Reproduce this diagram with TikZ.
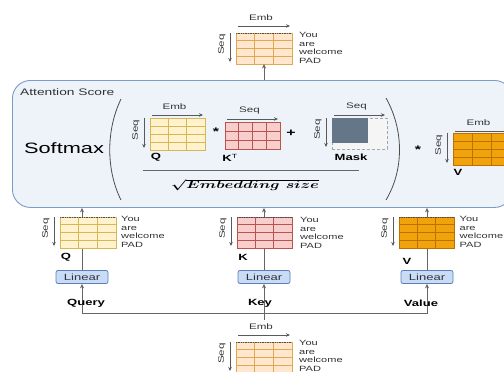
\documentclass[tikz,border=0pt]{standalone}
\usepackage{fontspec}
\setmainfont{Liberation Sans}[FakeStretch=1.45]
\usepackage{amsmath,bm,graphicx}
\usetikzlibrary{arrows.meta,calc}
\definecolor{tmf}{HTML}{FFE6CC}\definecolor{tmd}{HTML}{E0A850}
\definecolor{qf}{HTML}{FFF2CC}\definecolor{qd}{HTML}{D6B656}
\definecolor{kf}{HTML}{F8CECC}\definecolor{kd}{HTML}{B85450}
\definecolor{vf}{HTML}{F0A30A}\definecolor{vd}{HTML}{BD7000}
\definecolor{linf}{HTML}{C9DCF7}\definecolor{lind}{HTML}{5C80B5}
\definecolor{attf}{HTML}{EEF3FA}\definecolor{attd}{HTML}{7A9CC8}
\definecolor{maskd}{HTML}{647687}
\definecolor{txtc}{HTML}{333333}
\newcommand\gmat[8]{%
 \node[inner sep=0, outer sep=0, draw=#8d, fill=#8f, line width=.8pt, anchor=north west,
   minimum width={(#4-#2)*1pt}, minimum height={(#5-#3)*1pt}] (#1) at (#2,#3) {};
 \pgfmathsetmacro\cw{(#4-#2)/#6}\pgfmathsetmacro\rh{(#5-#3)/#7}%
 \pgfmathtruncatemacro\nc{#6-1}\pgfmathtruncatemacro\nr{#7-1}%
 \foreach \i in {1,...,\nc}{\draw[#8d,line width=.8pt] (#2+\i*\cw,#3) -- (#2+\i*\cw,#5);}
 \foreach \j in {1,...,\nr}{\draw[#8d,line width=.8pt] (#2,#3+\j*\rh) -- (#4,#3+\j*\rh);}
}
\newcommand\dtop[1]{\draw[densely dotted, black!70, line width=.7pt] (#1.north west) -- (#1.north east);}
\newcommand\seqarr[1]{%
 \draw[sarr] ([xshift=-6pt]#1.north west) -- ([xshift=-6pt,yshift=2pt]#1.south west);
 \node[rotate=90, lbl] at ([xshift=-14pt,yshift=4pt]#1.west) {Seq};}
\newcommand\embarr[3]{%
 \draw[sarr] ([xshift=2pt,yshift=#3]#1.north west) -- ([xshift=-2pt,yshift=#3]#1.north east);
 \node[lbl] at ([xshift=-3pt,yshift=#3+8pt]#1.north) {#2};}
\newcommand\words[2]{\node[lbl, anchor=west, align=left, font=\fontsize{7.6}{8.6}\selectfont] (#1) at #2 {You\\are\\welcome\\PAD};}
\begin{document}
\begin{tikzpicture}[x=1pt,y=-1pt,
  lbl/.style={inner sep=0, text=txtc, font=\fontsize{8}{9}\selectfont},
  bl/.style={inner sep=0, text=black, font=\fontsize{9}{10}\selectfont\bfseries},
  sarr/.style={-{Stealth[length=4pt,width=3.5pt]}, draw=black!65, line width=.8pt},
  arr/.style={-{Stealth[length=4.5pt,width=4pt]}, draw=black!60, line width=.9pt},
  linbox/.style={draw=lind, fill=linf, rounded corners=2pt, minimum width=52pt, minimum height=13pt,
     inner sep=0, text=txtc, font=\fontsize{9}{10}\selectfont, line width=.8pt}]
\clip (0,0) rectangle (504,372);
\fill[white] (0,0) rectangle (504,372);
% attention box
\node[draw=attd, fill=attf, line width=.9pt, rounded corners=18pt, anchor=north west, inner sep=0,
  minimum width=500pt, minimum height=127pt] (att) at (12,80) {};
\node[lbl, anchor=west, font=\fontsize{9.5}{11}\selectfont] (attl) at (20,92) {Attention Score};
\node[inner sep=0, text=black, font=\fontsize{15}{17}\selectfont] (soft) at (64,148) {Softmax};
% parentheses
\draw[black!70, line width=.8pt] (121,99) .. controls (106,130) and (106,170) .. (121,200);
\draw[black!70, line width=.8pt] (386,98) .. controls (404,130) and (404,170) .. (386,200);
% Q in box
\gmat{qa}{150}{118}{205}{150}{3}{4}{q}
\embarr{qa}{Emb}{3pt}
\seqarr{qa}
\node[bl] (qal) at (156,157) {Q};
\node[inner sep=0, font=\fontsize{11}{12}\selectfont\bfseries] (star1) at (216,132) {*};
% K^T
\gmat{kt}{225}{122}{280}{149}{4}{3}{k}
\embarr{kt}{Seq}{3pt}
\node[bl] (ktl) at (230,158) {K\textsuperscript{\mdseries T}};
\node[inner sep=0, font=\fontsize{11}{12}\selectfont\bfseries] (plus) at (291,133) {+};
% Mask
\node[inner sep=0, outer sep=0, draw=black!35, densely dashed, fill=black!4, line width=.5pt, anchor=north west,
   minimum width=55pt, minimum height=31pt] (mask) at (332,118) {};
\fill[maskd] (332,118) rectangle (368,143);
\embarr{mask}{Seq}{3pt}
\seqarr{mask}
\node[bl] (maskl) at (351,157) {Mask};
% fraction
\coordinate (fl) at (143,170);
\coordinate (fr) at (359,170);
\draw[black!60, line width=.8pt] (fl) -- (fr);
\node[inner sep=0] (sq) at (245,185) {\scalebox{1.45}[1]{\fontsize{10.5}{12}\selectfont\boldmath$\sqrt{Embedding\ size}$}};
\node[inner sep=0, font=\fontsize{11}{12}\selectfont\bfseries] (star2) at (418,150) {*};
% V in box
\gmat{va}{453}{133}{510}{165}{3}{4}{v}
\embarr{va}{Emb}{2pt}
\seqarr{va}
\node[bl] (val) at (458,172) {V};
% top output
\gmat{topm}{236}{33}{292}{64}{3}{4}{tm}
\dtop{topm}
\embarr{topm}{Emb}{7pt}
\seqarr{topm}
\words{wt}{(299,48)}
\draw[arr] (att.north -| topm.south) -- (topm.south);
% linear boxes
\node[linbox] (linQ) at (82,277) {Linear};
\node[linbox] (linK) at (264,277) {Linear};
\node[linbox] (linV) at (427,277) {Linear};
\draw[arr] (linQ.north) -- (linQ.north |- att.south);
\draw[arr] (linK.north) -- (linK.north |- att.south);
\draw[arr] (linV.north) -- (linV.north |- att.south);
% lower matrices
\gmat{ql}{60}{217}{116}{248}{3}{4}{q}
\dtop{ql}
\seqarr{ql}
\node[bl] (qll) at (66,257) {Q};
\words{wq}{(121,232)}
\gmat{kl}{237}{217}{292}{248}{3}{4}{k}
\dtop{kl}
\seqarr{kl}
\node[bl] (kll) at (243,257) {K};
\words{wk}{(300,233)}
\gmat{vl}{399}{217}{454}{248}{3}{4}{v}
\dtop{vl}
\seqarr{vl}
\node[bl] (vll) at (407,261) {V};
\words{wv}{(459.5,232)}
% inputs
\gmat{botm}{236}{342}{292}{373}{3}{4}{tm}
\dtop{botm}
\embarr{botm}{Emb}{7pt}
\seqarr{botm}
\words{wb}{(299,356)}
\coordinate (src) at (264,320);
\coordinate (jn) at (264,313);
\draw[black!60, line width=.9pt] (src) -- (jn);
\draw[arr] (jn) -| (linQ.south);
\draw[arr] (jn) -- (linK.south);
\draw[arr] (jn) -| (linV.south);
\node[bl] (query) at (86,303) {Query};
\node[bl] (key) at (260,303) {Key};
\node[bl] (value) at (421,303) {Value};
\end{tikzpicture}
\end{document}
